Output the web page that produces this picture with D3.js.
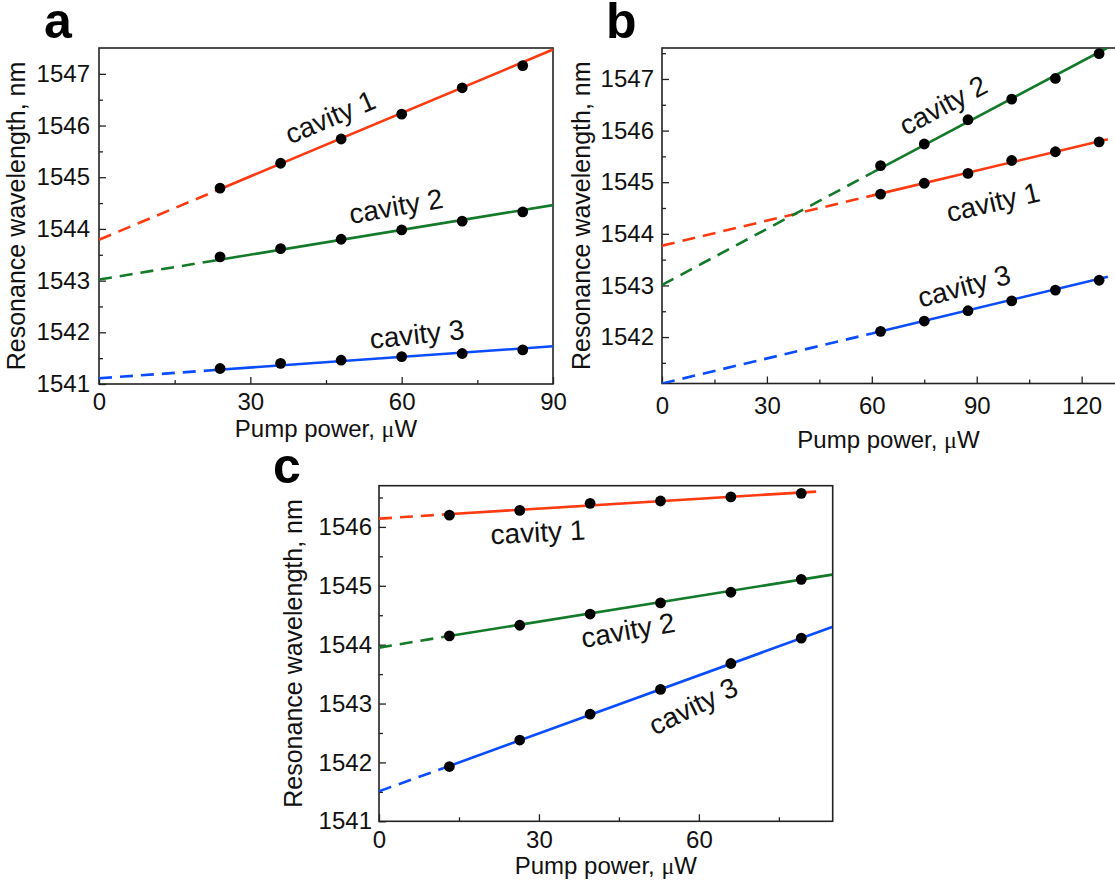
<!DOCTYPE html>
<html>
<head>
<meta charset="utf-8">
<script src="https://cdn.jsdelivr.net/npm/d3@7"></script>
<style>
  html, body { margin: 0; padding: 0; background: #fff; }
  svg { display: block; }
</style>
</head>
<body>
<svg id="chart" width="1115" height="886"></svg>
<script>
// ---------------- DATA ----------------
const seriesNames = ["cavity 1", "cavity 2", "cavity 3"];

// Panel a
const aPower = [24, 36, 48, 60, 72, 84];
const aCavity1 = [1544.79, 1545.27, 1545.74, 1546.22, 1546.73, 1547.16];
const aCavity2 = [1543.46, 1543.62, 1543.80, 1543.98, 1544.15, 1544.33];
const aCavity3 = [1541.30, 1541.40, 1541.46, 1541.53, 1541.59, 1541.66];
const aFitPower = [0, 23, 90];
const aFit1 = [1543.79, 1544.73, 1547.47];
const aFit2 = [1543.02, 1543.39, 1544.46];
const aFit3 = [1541.11, 1541.27, 1541.73];
const aXTicks = [0, 30, 60, 90];
const aYTicks = [1541, 1542, 1543, 1544, 1545, 1546, 1547];

// Panel b
const bPower = [62.5, 75, 87.5, 100, 112.5, 125];
const bCavity1 = [1544.77, 1544.98, 1545.17, 1545.42, 1545.59, 1545.78];
const bCavity2 = [1545.32, 1545.74, 1546.21, 1546.61, 1547.01, 1547.49];
const bCavity3 = [1542.11, 1542.31, 1542.51, 1542.70, 1542.91, 1543.10];
const bFitPower = [0, 60, 127.5];
const bFit1 = [1543.77, 1544.74, 1545.83];
const bFit2 = [1543.01, 1545.18, 1547.61];
const bFit3 = [1541.10, 1542.07, 1543.17];
const bXTicks = [0, 30, 60, 90, 120];
const bYTicks = [1542, 1543, 1544, 1545, 1546, 1547];

// Panel c
const cPower = [13.2, 26.4, 39.6, 52.8, 66, 79.2];
const cCavity1 = [1546.20, 1546.28, 1546.40, 1546.44, 1546.51, 1546.57];
const cCavity2 = [1544.15, 1544.33, 1544.52, 1544.71, 1544.89, 1545.11];
const cCavity3 = [1541.93, 1542.38, 1542.82, 1543.24, 1543.68, 1544.11];
const cFitPower1 = [0, 12, 82];
const cFitPower23 = [0, 12, 85];
const cFit1 = [1546.14, 1546.21, 1546.60];
const cFit2 = [1543.95, 1544.13, 1545.19];
const cFit3 = [1541.51, 1541.90, 1544.30];
const cXTicks = [0, 30, 60];
const cYTicks = [1541, 1542, 1543, 1544, 1545, 1546];

// ---------------- STYLE ----------------
const FONT = "'Liberation Sans', Arial, Helvetica, sans-serif";
const COLORS = ["#ff3a10", "#137a2a", "#0a4cff"];
const svg = d3.select("#chart");
svg.append("rect").attr("width", 1115).attr("height", 886).attr("fill", "#fff");

function drawPanel(o) {
  const g = svg.append("g");
  const x = d3.scaleLinear().domain(o.xDomain).range([o.left, o.right]);
  const y = d3.scaleLinear().domain(o.yDomain).range([o.bottom, o.top]);

  const clipId = "clip-" + o.letter;
  svg.append("clipPath").attr("id", clipId).append("rect")
    .attr("x", o.left).attr("y", o.top)
    .attr("width", o.right - o.left).attr("height", o.bottom - o.top);

  // minor ticks
  const xMinor = d3.axisBottom(x).tickValues(o.xMinor).tickSizeInner(-4).tickSizeOuter(0).tickFormat("");
  g.append("g").attr("transform", `translate(0,${o.bottom})`).call(xMinor)
    .call(s => s.select(".domain").remove())
    .call(s => s.selectAll("line").attr("stroke", "#222").attr("stroke-width", 1.3));
  const yMinor = d3.axisLeft(y).tickValues(o.yMinor).tickSizeInner(-4).tickSizeOuter(0).tickFormat("");
  g.append("g").attr("transform", `translate(${o.left},0)`).call(yMinor)
    .call(s => s.select(".domain").remove())
    .call(s => s.selectAll("line").attr("stroke", "#222").attr("stroke-width", 1.3));

  // major axes
  const xAxis = d3.axisBottom(x).tickValues(o.xTicks).tickSizeInner(-7).tickSizeOuter(0)
    .tickPadding(o.xPad).tickFormat(d3.format("d"));
  g.append("g").attr("transform", `translate(0,${o.bottom})`).call(xAxis)
    .call(s => s.select(".domain").remove())
    .call(s => s.selectAll("line").attr("stroke", "#222").attr("stroke-width", 1.3))
    .call(s => s.selectAll("text").attr("font-family", FONT).attr("font-size", 24).attr("fill", "#111"));
  const yAxis = d3.axisLeft(y).tickValues(o.yTicks).tickSizeInner(-7).tickSizeOuter(0)
    .tickPadding(o.yPad).tickFormat(d3.format("d"));
  g.append("g").attr("transform", `translate(${o.left},0)`).call(yAxis)
    .call(s => s.select(".domain").remove())
    .call(s => s.selectAll("line").attr("stroke", "#222").attr("stroke-width", 1.3))
    .call(s => s.selectAll("text").attr("font-family", FONT).attr("font-size", 24).attr("fill", "#111"));

  // frame
  g.append("rect").attr("x", o.left).attr("y", o.top)
    .attr("width", o.right - o.left).attr("height", o.bottom - o.top)
    .attr("fill", "none").attr("stroke", "#222").attr("stroke-width", 1.6);

  // fit lines
  const line = d3.line().x(d => x(d[0])).y(d => y(d[1]));
  const plot = g.append("g").attr("clip-path", `url(#${clipId})`);
  o.fits.forEach((f, i) => {
    const pts = f.px.map((p, k) => [p, f.v[k]]);
    plot.append("path").attr("d", line(pts.slice(0, 2)))
      .attr("fill", "none").attr("stroke", COLORS[i]).attr("stroke-width", 2.6)
      .attr("stroke-dasharray", "13,8");
    plot.append("path").attr("d", line(pts.slice(1)))
      .attr("fill", "none").attr("stroke", COLORS[i]).attr("stroke-width", 2.6);
  });

  // points
  o.series.forEach(vals => {
    plot.selectAll(null).data(vals.map((v, k) => [o.power[k], v])).enter()
      .append("circle").attr("cx", d => x(d[0])).attr("cy", d => y(d[1]))
      .attr("r", 5.4).attr("fill", "#000");
  });

  // labels
  o.labels.forEach((l, i) => {
    g.append("text").attr("transform", `translate(${l.cx},${l.cy}) rotate(${l.rot})`)
      .attr("text-anchor", "middle").attr("dy", "0.35em")
      .attr("font-family", FONT).attr("font-size", 28).attr("fill", "#111")
      .text(seriesNames[i]);
  });

  // axis titles
  const xt = g.append("text").attr("x", (o.left + Math.min(o.right, 1115)) / 2 + (o.xTitleDx || 0))
    .attr("y", o.xTitleY).attr("text-anchor", "middle")
    .attr("font-family", FONT).attr("font-size", 24).attr("fill", "#111");
  xt.append("tspan").text("Pump power,  ");
  xt.append("tspan").attr("font-family", "'Liberation Serif', 'DejaVu Serif', serif").text("μ");
  xt.append("tspan").text("W");

  g.append("text")
    .attr("transform", `translate(${o.yTitleX},${(o.top + o.bottom) / 2}) rotate(-90)`)
    .attr("text-anchor", "middle")
    .attr("font-family", FONT).attr("font-size", 25).attr("fill", "#111")
    .text("Resonance wavelength, nm");

  // panel letter
  g.append("text").attr("x", o.letterX).attr("y", o.letterY)
    .attr("font-family", FONT).attr("font-weight", "bold").attr("font-size", 50).attr("fill", "#000")
    .text(o.letter);
}

drawPanel({
  letter: "a", letterX: 44, letterY: 38,
  left: 99, right: 553, top: 48, bottom: 384,
  xDomain: [0, 90], yDomain: [1541, 1547.5],
  xTicks: aXTicks, xMinor: [15, 45, 75], yTicks: aYTicks,
  yMinor: [1541.5, 1542.5, 1543.5, 1544.5, 1545.5, 1546.5],
  xPad: 9, yPad: 9,
  power: aPower, series: [aCavity1, aCavity2, aCavity3],
  fits: [{px: aFitPower, v: aFit1}, {px: aFitPower, v: aFit2}, {px: aFitPower, v: aFit3}],
  labels: [{cx: 330, cy: 117, rot: -23}, {cx: 396, cy: 206, rot: -10}, {cx: 417, cy: 334, rot: -6}],
  xTitleY: 437, yTitleX: 25
});

drawPanel({
  letter: "b", letterX: 606, letterY: 38,
  left: 662, right: 1116.6, top: 48, bottom: 383.5,
  xDomain: [0, 130], yDomain: [1541.1, 1547.6],
  xTicks: bXTicks, xMinor: [15, 45, 75, 105], yTicks: bYTicks,
  yMinor: [1541.5, 1542.5, 1543.5, 1544.5, 1545.5, 1546.5, 1547.5],
  xPad: 13, yPad: 8,
  power: bPower, series: [bCavity1, bCavity2, bCavity3],
  fits: [{px: bFitPower, v: bFit1}, {px: bFitPower, v: bFit2}, {px: bFitPower, v: bFit3}],
  labels: [{cx: 993, cy: 202, rot: -13}, {cx: 943, cy: 105, rot: -28}, {cx: 964, cy: 286, rot: -15}],
  xTitleY: 448, yTitleX: 590, xTitleDx: 0
});

drawPanel({
  letter: "c", letterX: 273, letterY: 483,
  left: 379, right: 832.7, top: 485.7, bottom: 821.3,
  xDomain: [0, 85.1], yDomain: [1541, 1546.7],
  xTicks: cXTicks, xMinor: [15, 45, 75], yTicks: cYTicks,
  yMinor: [1541.5, 1542.5, 1543.5, 1544.5, 1545.5, 1546.5],
  xPad: 10, yPad: 7,
  power: cPower, series: [cCavity1, cCavity2, cCavity3],
  fits: [{px: cFitPower1, v: cFit1}, {px: cFitPower23, v: cFit2}, {px: cFitPower23, v: cFit3}],
  labels: [{cx: 538, cy: 532, rot: -3}, {cx: 628, cy: 630, rot: -10}, {cx: 693, cy: 706, rot: -26}],
  xTitleY: 874, yTitleX: 302
});
</script>
</body>
</html>
